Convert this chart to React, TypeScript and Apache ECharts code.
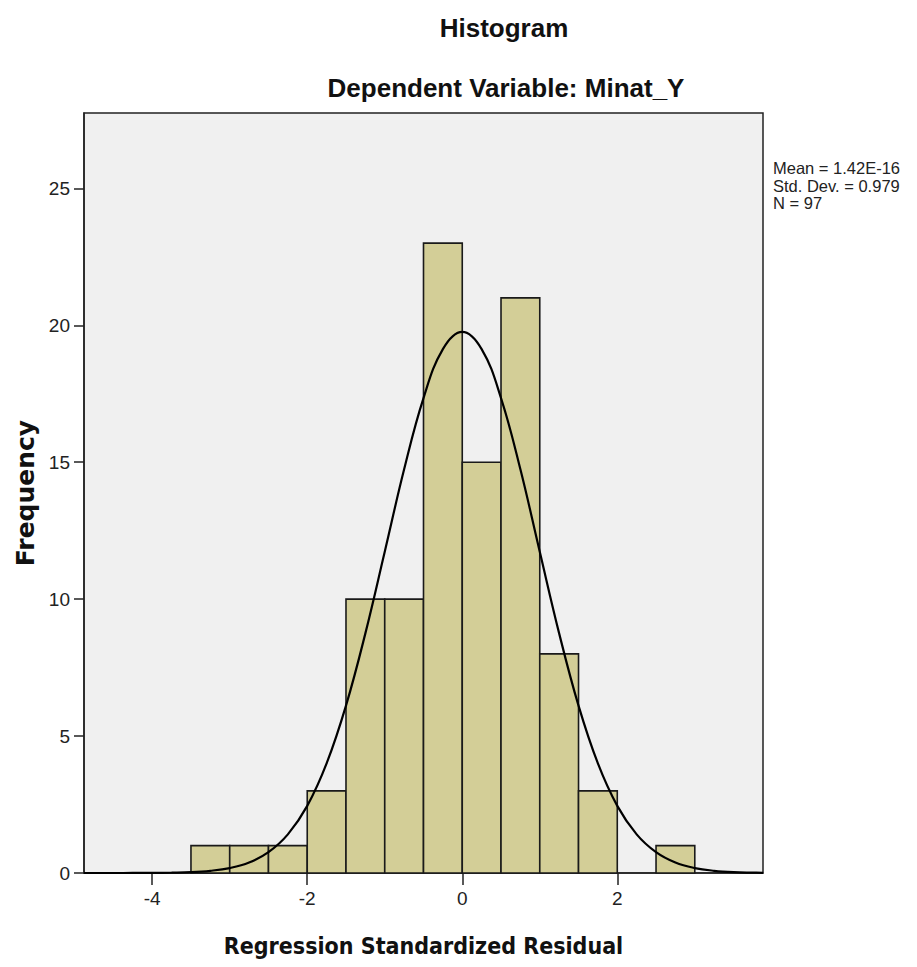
import React, { useEffect, useRef } from "react";
import * as echarts from "echarts";

// Histogram bins (left edges), bin width and frequencies
const binStarts = [-3.5, -3, -2.5, -2, -1.5, -1, -0.5, 0, 0.5, 1, 1.5, 2, 2.5];
const binWidth = 0.5;
const frequencies = [1, 1, 1, 3, 10, 10, 23, 15, 21, 8, 3, 0, 1];

// Normal curve points
const curveX = [
  -4.88, -4.75, -4.5, -4.25, -4, -3.75, -3.5, -3.25, -3, -2.75, -2.5, -2.25, -2,
  -1.75, -1.5, -1.25, -1, -0.75, -0.5, -0.25, 0, 0.25, 0.5, 0.75, 1, 1.25, 1.5,
  1.75, 2, 2.25, 2.5, 2.75, 3, 3.25, 3.5, 3.75, 3.88,
];
const curveY = [
  0, 0, 0, 0.002, 0.005, 0.013, 0.03, 0.08, 0.18, 0.38, 0.76, 1.41, 2.45, 4.0,
  6.11, 8.75, 11.73, 14.74, 17.34, 19.13, 19.76, 19.13, 17.34, 14.74, 11.73, 8.75,
  6.11, 4.0, 2.45, 1.41, 0.76, 0.38, 0.18, 0.08, 0.03, 0.013, 0.008,
];

const xTicks = [-4, -2, 0, 2];
const yTicks = [0, 5, 10, 15, 20, 25];
const xRange = [-4.88, 3.88];
const yRange = [0, 27.75];

const titleText = "Histogram";
const subtitleText = "Dependent Variable: Minat_Y";
const xName = "Regression Standardized Residual";
const yName = "Frequency";
const statLines = ["Mean = 1.42E-16", "Std. Dev. = 0.979", "N = 97"];

export default function App() {
  const ref = useRef<HTMLDivElement>(null);

  useEffect(() => {
    if (!ref.current) return;
    const chart = echarts.init(ref.current, null, { renderer: "svg" });

    const barData = binStarts
      .map((s, i) => [s, s + binWidth, frequencies[i]])
      .filter((d) => d[2] > 0);
    const lineData = curveX.map((x, i) => [x, curveY[i]]);

    const axisColor = "#222";
    const tickFont = "'Liberation Sans Narrow', 'Liberation Sans', Arial, sans-serif";

    const statTexts = statLines.map((line, i) => ({
      type: "text",
      x: 773,
      y: 168 + i * 17.5,
      style: {
        text: line,
        font: "16.5px 'Liberation Sans', Arial, sans-serif",
        fill: "#222",
        textAlign: "left",
        textVerticalAlign: "middle",
      },
    }));

    chart.setOption({
      animation: false,
      backgroundColor: "#ffffff",
      grid: {
        left: 84,
        top: 113,
        right: 154,
        bottom: 94,
        show: true,
        backgroundColor: "#f0f0f0",
        borderColor: axisColor,
        borderWidth: 1.5,
      },
      xAxis: {
        type: "value",
        min: xRange[0],
        max: xRange[1],
        axisLine: { show: true, onZero: false, lineStyle: { color: axisColor, width: 1.5 } },
        axisTick: {
          show: true,
          length: 12,
          customValues: xTicks,
          lineStyle: { color: axisColor, width: 1.5 },
        },
        axisLabel: {
          customValues: xTicks,
          margin: 16,
          fontSize: 19,
          fontFamily: tickFont,
          color: "#222",
        },
        splitLine: { show: false },
        name: xName,
        nameLocation: "middle",
        nameGap: 61,
        nameTextStyle: {
          fontFamily: "'DejaVu Sans Condensed', 'DejaVu Sans', sans-serif",
          fontWeight: "bold",
          fontSize: 23,
          color: "#111",
        },
      },
      yAxis: {
        type: "value",
        min: yRange[0],
        max: yRange[1],
        axisLine: { show: true, onZero: false, lineStyle: { color: axisColor, width: 1.5 } },
        axisTick: {
          show: true,
          length: 10,
          customValues: yTicks,
          lineStyle: { color: axisColor, width: 1.5 },
        },
        axisLabel: {
          customValues: yTicks,
          margin: 14,
          fontSize: 19,
          fontFamily: tickFont,
          color: "#222",
        },
        splitLine: { show: false },
        name: yName,
        nameLocation: "middle",
        nameGap: 46,
        nameTextStyle: {
          fontFamily: "'DejaVu Sans', sans-serif",
          fontWeight: "bold",
          fontSize: 25,
          color: "#111",
        },
      },
      graphic: [
        {
          type: "text",
          x: 504,
          y: 28,
          style: {
            text: titleText,
            font: "bold 26px 'Liberation Sans', Arial, sans-serif",
            fill: "#111",
            textAlign: "center",
            textVerticalAlign: "middle",
          },
        },
        {
          type: "text",
          x: 506,
          y: 88,
          style: {
            text: subtitleText,
            font: "bold 26px 'Liberation Sans', Arial, sans-serif",
            fill: "#111",
            textAlign: "center",
            textVerticalAlign: "middle",
          },
        },
        ...statTexts,
      ],
      series: [
        {
          type: "custom",
          data: barData,
          encode: { x: [0, 1], y: 2 },
          z: 2,
          renderItem: (params: any, api: any) => {
            const x0 = api.value(0);
            const x1 = api.value(1);
            const f = api.value(2);
            const p0 = api.coord([x0, f]);
            const p1 = api.coord([x1, 0]);
            return {
              type: "rect",
              shape: {
                x: p0[0],
                y: p0[1],
                width: p1[0] - p0[0],
                height: p1[1] - p0[1],
              },
              style: { fill: "#d3ce97", stroke: "#1a1a1a", lineWidth: 1.6 },
            };
          },
        },
        {
          type: "line",
          data: lineData,
          smooth: 0.4,
          showSymbol: false,
          symbol: "none",
          z: 3,
          lineStyle: { color: "#000", width: 2.2 },
        },
      ],
    });

    return () => chart.dispose();
  }, []);

  return (
    <div
      ref={ref}
      style={{ position: "fixed", left: 0, top: 0, width: 917, height: 967 }}
    />
  );
}
